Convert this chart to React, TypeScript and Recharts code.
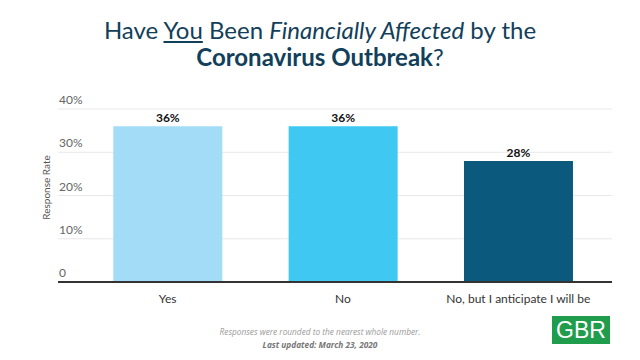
import React from "react";
import {
  BarChart,
  Bar,
  XAxis,
  YAxis,
  CartesianGrid,
  Cell,
  LabelList,
} from "recharts";

const categories = ["Yes", "No", "No, but I anticipate I will be"];
const responseRates = [36, 36, 28];
const barColors = ["#a3dcf6", "#3ec8f2", "#0b5a7e"];
const yTicks = [0, 10, 20, 30, 40];

const data = categories.map((name, i) => ({ name, rate: responseRates[i] }));

const TITLE = "#12405a";

function YTick(props: any) {
  const { x, y, payload } = props;
  const label = payload.value === 0 ? "0" : `${payload.value}%`;
  return (
    <text x={x + 1} y={y - 5} textAnchor="start" fontSize={12} fill="#666" fontFamily="Lato, sans-serif">
      {label}
    </text>
  );
}

function YLabel(props: any) {
  const { viewBox } = props;
  const cx = viewBox.x + viewBox.width - 12;
  const cy = viewBox.y + viewBox.height / 2 - 8;
  return (
    <text
      x={cx}
      y={cy}
      transform={`rotate(-90, ${cx}, ${cy})`}
      textAnchor="middle"
      dominantBaseline="central"
      fontSize={10}
      fill="#555"
      fontFamily="Lato, sans-serif"
    >
      Response Rate
    </text>
  );
}

export default function App() {
  return (
    <div style={{ position: "fixed", top: 0, left: 0, width: 640, height: 360, background: "#fff" }}>
      <div
        style={{
          position: "absolute",
          top: 16,
          left: 0,
          width: 640,
          textAlign: "center",
          fontFamily: "Lato, sans-serif",
          fontSize: 24,
          lineHeight: "27px",
          color: TITLE,
        }}
      >
        <div>
          Have <span style={{ textDecoration: "underline" }}>You</span> Been{" "}
          <i>Financially Affected</i> by the
        </div>
        <div>
          <b>Coronavirus Outbreak</b>?
        </div>
      </div>
      <BarChart
        width={640}
        height={360}
        data={data}
        margin={{ top: 109, right: 28, bottom: 48, left: 0 }}
        barCategoryGap="19%"
      >
        <CartesianGrid vertical={false} stroke="#e8e8e8" />
        <XAxis
          dataKey="name"
          axisLine={{ stroke: "#333", strokeWidth: 2 }}
          tickLine={false}
          padding={{ left: 22, right: 6 }}
          height={30}
          tick={{ fontSize: 12, fill: "#333", fontFamily: "Lato, sans-serif" }}
          tickMargin={6}
        />
        <YAxis
          width={58}
          domain={[0, 40]}
          ticks={yTicks}
          axisLine={false}
          tickLine={false}
          tickSize={0}
          tickMargin={0}
          tick={<YTick />}
          label={<YLabel />}
        />
        <Bar dataKey="rate" isAnimationActive={false}>
          {data.map((d, i) => (
            <Cell key={d.name} fill={barColors[i]} />
          ))}
          <LabelList
            dataKey="rate"
            position="top"
            offset={4}
            formatter={(v: any) => `${v}%`}
            style={{ fontSize: 12, fontWeight: 700, fill: "#111", fontFamily: "Lato, sans-serif" }}
          />
        </Bar>
      </BarChart>
      <div
        style={{
          position: "absolute",
          top: 325,
          left: 0,
          width: 640,
          textAlign: "center",
          fontFamily: "'Open Sans', sans-serif",
          fontStyle: "italic",
          fontSize: 8.3,
          lineHeight: "13px",
          color: "#999",
        }}
      >
        <div>Responses were rounded to the nearest whole number.</div>
        <div style={{ fontWeight: 700, color: "#777" }}>Last updated: March 23, 2020</div>
      </div>
      <div
        style={{
          position: "absolute",
          left: 552,
          top: 316,
          width: 58,
          height: 28,
          background: "#1f9d4c",
          color: "#fff",
          fontFamily: "'Liberation Sans', Arial, sans-serif",
          fontSize: 23,
          lineHeight: "28px",
          textAlign: "center",
        }}
      >
        GBR
      </div>
    </div>
  );
}
